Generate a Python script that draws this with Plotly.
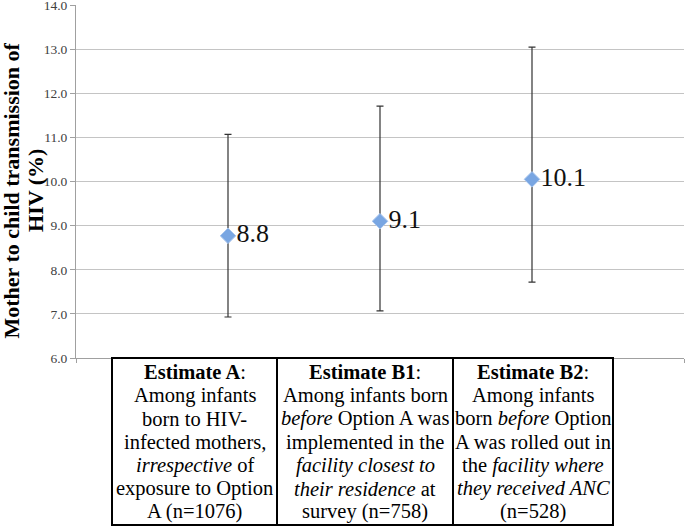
import plotly.graph_objects as go

# ---- data ----
estimates = ["Estimate A", "Estimate B1", "Estimate B2"]
x_pos = [1, 2, 3]
mtct = [8.77, 9.10, 10.05]
ci_low = [6.93, 7.07, 7.72]
ci_high = [11.07, 11.71, 13.05]
value_labels = ["8.8", "9.1", "10.1"]
y_ticks = [6, 7, 8, 9, 10, 11, 12, 13, 14]

table_lines = [
    ["<b>Estimate A</b>:", "Among infants", "born to HIV-", "infected mothers,",
     "<i>irrespective</i> of", "exposure to Option", "A (n=1076)"],
    ["<b>Estimate B1</b>:", "Among infants born", "<i>before</i> Option A was",
     "implemented in the", "<i>facility closest to</i>", "<i>their residence</i> at",
     "survey (n=758)"],
    ["<b>Estimate B2</b>:", "Among infants", "born <i>before</i> Option",
     "A was rolled out in", "the <i>facility where</i>", "<i>they received ANC</i>",
     "(n=528)"],
]
y_title_lines = ["Mother to child transmission of", "HIV (%)"]

# ---- layout constants (pixels) ----
W, H = 686, 530
ML, MR, MT, MB = 76, 2, 4.5, 171.5
PW = W - ML - MR
PH = H - MT - MB
box_edges_px = [112, 277, 453, 613]
box_top_px, box_bot_px = 358.5, 526
line0_px, line_step_px = 373, 23.3
title_x_px = [11.5, 36]
title_y_px = 191

def px_x(px):
    return (px - ML) / PW

def px_y(py):
    return (H - MB - py) / PH

SERIF = "Liberation Serif, Times New Roman, serif"

err_plus = [h - v for h, v in zip(ci_high, mtct)]
err_minus = [v - l for v, l in zip(mtct, ci_low)]

fig = go.Figure()
fig.add_trace(go.Scatter(
    x=x_pos, y=mtct, mode="markers+text",
    text=value_labels, textposition="middle right",
    textfont=dict(family=SERIF, size=26, color="#111111"),
    marker=dict(symbol="diamond", size=12, color="#79a6e2",
                line=dict(color="#a9c6ee", width=1)),
    error_y=dict(type="data", symmetric=False, array=err_plus,
                 arrayminus=err_minus, color="#333333", thickness=1.2, width=3.5),
    cliponaxis=False, showlegend=False,
))

shapes = []
for i in range(3):
    shapes.append(dict(type="rect", xref="paper", yref="paper",
                       x0=px_x(box_edges_px[i]), x1=px_x(box_edges_px[i + 1]),
                       y0=px_y(box_bot_px), y1=px_y(box_top_px),
                       line=dict(color="#000000", width=2), layer="above"))
fig.update_layout(shapes=shapes)

annotations = []
for i, lines in enumerate(table_lines):
    cx = (box_edges_px[i] + box_edges_px[i + 1]) / 2
    for j, t in enumerate(lines):
        annotations.append(dict(
            text=t, xref="paper", yref="paper",
            x=px_x(cx), y=px_y(line0_px + j * line_step_px),
            xanchor="center", yanchor="middle", showarrow=False,
            font=dict(family=SERIF, size=20.5, color="#000000")))

for t, tx in zip(y_title_lines, title_x_px):
    annotations.append(dict(
        text="<b>" + t + "</b>", xref="paper", yref="paper",
        x=px_x(tx), y=px_y(title_y_px),
        xanchor="center", yanchor="middle", textangle=-90, showarrow=False,
        font=dict(family=SERIF, size=22, color="#000000")))
fig.update_layout(annotations=annotations)

fig.update_layout(
    width=W, height=H,
    margin=dict(l=ML, r=MR, t=MT, b=MB, pad=0, autoexpand=False),
    paper_bgcolor="white", plot_bgcolor="white",
    xaxis=dict(range=[0, 4], showgrid=False, zeroline=False, automargin=False,
               showline=True, linecolor="#a0a0a0", linewidth=1,
               tickvals=[0, 4], ticks="outside", ticklen=4, tickcolor="#a0a0a0",
               showticklabels=False),
    yaxis=dict(range=[6, 14.003], tickvals=y_ticks, tickformat=".1f",
               automargin=False,
               showgrid=True, gridcolor="#c4c4c4", gridwidth=1,
               zeroline=False, showline=True, linecolor="#a0a0a0", linewidth=1,
               ticks="outside", ticklen=5, tickcolor="#a0a0a0",
               ticklabeloverflow="allow",
               tickfont=dict(family=SERIF, size=13.5, color="#404040")),
)

fig.write_html("out.html", config={"displayModeBar": False},
               post_script="document.body.style.margin='0';document.body.style.overflow='hidden';")
